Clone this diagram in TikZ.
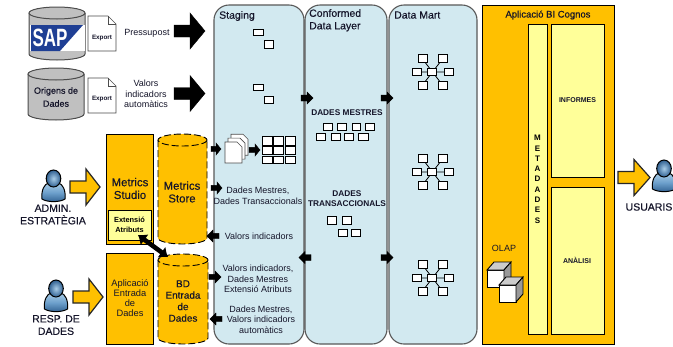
\documentclass[tikz,border=0pt]{standalone}
\usepackage{fontspec}
\usepackage{graphicx}
\usetikzlibrary{arrows.meta}
\setmainfont{Liberation Sans}
\newfontfamily\semib[FakeBold=0.35]{Liberation Sans}
\definecolor{gold}{HTML}{FFC000}
\definecolor{pale}{HTML}{FFFF99}
\definecolor{panel}{HTML}{D2E9F0}
\definecolor{cylgray}{HTML}{C0C0C0}
\definecolor{sapblue}{HTML}{1F3F94}
\definecolor{plight}{HTML}{A9CDE8}
\definecolor{pmid}{HTML}{6C9FCB}
\definecolor{pdark}{HTML}{2F5F90}
\definecolor{ink}{HTML}{15152A}
\tikzset{
  txt/.style={inner sep=0pt,align=center,text=ink,font=\fontsize{9}{10.5}\selectfont},
  small/.style={txt,font=\fontsize{7.5}{10}\selectfont},
  lbl/.style={txt,font=\semib\fontsize{10.5}{12.5}\selectfont},
  big/.style={txt,font=\semib\fontsize{11.4}{12.7}\selectfont},
  mid/.style={txt,font=\semib\fontsize{10}{11.5}\selectfont},
  box/.style={draw=black,line width=0.9pt},
  sq/.style={draw=black,fill=white,line width=0.9pt},
  panelbox/.style={draw=black!65,fill=panel,line width=1.1pt,rounded corners=15pt},
  block/.style={fill=black,draw=black},
  gblock/.style={fill=gold,draw=black!85,line width=1.2pt},
}
% cylinder: x1 x2 ytop ybottom fill style
\newcommand{\cyl}[6]{%
  \draw[#6,fill=#5] (#1,#3) -- (#1,#4) arc[start angle=180,end angle=0,x radius={(#2-#1)/2},y radius=6] -- (#2,#3);
  \draw[#6,fill=#5] ({(#1+#2)/2},#3) ellipse[x radius={(#2-#1)/2},y radius=6];
}
% block arrow: tail tip yc halfshaft halfhead headstart style
\newcommand{\barrow}[7]{%
  \draw[#7] (#1,#3-#4) -- (#6,#3-#4) -- (#6,#3-#5) -- (#2,#3) -- (#6,#3+#5) -- (#6,#3+#4) -- (#1,#3+#4) -- cycle;
}
\newcommand{\docshape}[4]{%
  \draw[draw=black!70,fill=white,line width=0.7pt] (#1,#3) -- (#2-8,#3) -- (#2,#3+8) -- (#2,#4) -- (#1,#4) -- cycle;
  \draw[draw=black!70,line width=0.6pt] (#2-8,#3) -- (#2-8,#3+8) -- (#2,#3+8);
}
% person: centre x, top y
\newcommand{\person}[2]{%
  \begin{scope}[shift={(#1,#2)}]
  \draw[line width=1pt,draw=black,top color=plight,bottom color=pdark,middle color=pmid]
    (-11.5,29) .. controls (-12.5,20) and (-9,14) .. (-5,13) -- (5,13) .. controls (9,14) and (12.5,20) .. (11.5,29) .. controls (6,32.5) and (-6,32.5) .. (-11.5,29) -- cycle;
  \draw[line width=1pt,draw=black,inner color=plight,outer color=pdark] (0,8.5) ellipse[x radius=7.3,y radius=8.5];
  \end{scope}
}
\newcommand{\starnet}[2]{%
  \begin{scope}[shift={(#1,#2)}]
  \draw[line width=0.8pt] (-10,-13) -- (10,13) (10,-13) -- (-10,13) (-16,0) -- (16,0);
  \foreach \a/\b in {-14.5/-13.5,5.5/-13.5,-20.5/0,11.5/0,-14.5/13.5,5.5/13.5,-5/0}{
    \filldraw[sq] (\a,\b-3.8) rectangle +(9,7.6);
  }
  \end{scope}
}
\newcommand{\sqr}[4]{\draw[sq] (#1,#3) rectangle (#2,#4);}
\newcommand{\cubeshape}[4]{%
  \filldraw[draw=black,fill=white,line width=0.9pt] (#1,#3) rectangle (#2,#4);
  \filldraw[draw=black,fill=gray!40,line width=0.9pt] (#1,#3) -- (#1+7,#3-8) -- (#2+7,#3-8) -- (#2,#3) -- cycle;
  \filldraw[draw=black,fill=gray!80,line width=0.9pt] (#2,#3) -- (#2+7,#3-8) -- (#2+7,#4-8) -- (#2,#4) -- cycle;
}
\begin{document}
\begin{tikzpicture}[x=1pt,y=-1pt]
\useasboundingbox (0,0) rectangle (673,346);
\fill[white] (0,0) rectangle (673,346);

% panels
\draw[panelbox] (214,5) rectangle (304,344);
\draw[panelbox] (305,5) rectangle (387,344);
\draw[panelbox] (389,5) rectangle (477,344);
\node[lbl,anchor=west] (staging) at (219,16) {Staging};
\node[lbl,anchor=north west,align=left] (conf) at (309,9) {Conformed\\Data Layer};
\node[lbl,anchor=west] (mart) at (394,15) {Data Mart};

% source cylinders
\cyl{29}{85}{13}{54}{cylgray}{draw=black!70,line width=1pt}
\fill[white] (30,25) rectangle (85,51);
\fill[sapblue] (31,25) -- (83,25) -- (60,51) -- (31,51) -- cycle;
\node[inner sep=0pt,text=white,font=\bfseries\fontsize{25}{25}\selectfont] (sap) at (50,38) {\scalebox{0.68}[1]{SAP}};
\cyl{28}{84}{74}{114}{cylgray}{draw=black!70,line width=1pt}
\node[txt,font=\semib\fontsize{9}{13}\selectfont] (orig) at (56,97) {Origens de\\Dades};
\docshape{88}{116}{16}{51}
\docshape{88}{116}{78}{113}
\node[small,font=\bfseries\fontsize{6.3}{8}\selectfont] (exp1) at (102,37.5) {Export};
\node[small,font=\bfseries\fontsize{6.3}{8}\selectfont] (exp2) at (102,99) {Export};
\node[txt] (press) at (147,33) {Pressupost};
\node[txt] (vals) at (146,94) {Valors\\indicadors\\automàtics};
\barrow{174}{205}{31}{6}{18}{190}{block}
\barrow{174}{205}{93.5}{6}{18}{190}{block}

% left boxes
\draw[box,fill=gold] (106,134) rectangle (153,244);
\node[big] (ms) at (130,188.5) {Metrics\\Studio};
\node[box,fill=pale,minimum width=43pt,minimum height=30pt,inner sep=0pt,align=center,font=\fontsize{7.4}{10}\selectfont] (ext) at (129.5,225) {\bfseries Extensió\\\bfseries Atributs};
\draw[box,fill=gold] (106,253) rectangle (153,344);
\node[txt,font=\fontsize{9.3}{10}\selectfont] (apl) at (130,298) {Aplicació\\Entrada\\de\\Dades};
\cyl{158}{207}{140}{238}{gold}{draw=black,dash pattern=on 7pt off 3pt,line width=0.9pt}
\node[big] (mstore) at (182,192) {Metrics\\Store};
\cyl{158}{208}{260}{338}{gold}{draw=black,dash pattern=on 7pt off 3pt,line width=0.9pt}
\node[mid] (bd) at (183,301) {BD\\Entrada\\de\\Dades};

% double arrow
\coordinate (da) at (138,235);
\coordinate (db) at (168,257);
\draw[black,line width=4.6pt,{Latex[length=8pt,width=14pt]}-{Latex[length=8pt,width=14pt]}] (da) -- (db);

% people
\person{53.5}{170}
\node[lbl] (admin) at (53,214.5) {ADMIN.\\ESTRATÈGIA};
\barrow{70}{100}{187}{6}{18}{86}{gblock}
\person{56}{280}
\node[lbl] (resp) at (56,325) {RESP. DE\\DADES};
\barrow{73}{103}{297}{6}{18}{89}{gblock}
\begin{scope}
\clip (0,0) rectangle (673,346);
\person{664}{160}
\end{scope}
\node[lbl] (usu) at (649,207) {USUARIS};
\barrow{618}{650}{177.5}{6}{18}{634}{gblock}

% staging contents
\sqr{253}{263}{29}{35}\sqr{264}{273}{40}{48}
\sqr{253}{263}{84}{90}\sqr{264}{273}{96}{103}
\foreach \o in {6,3,0}{
  \draw[draw=black!70,fill=white,line width=0.6pt] (225+\o,142-\o*1.3) -- (237+\o,142-\o*1.3) -- (242+\o,147-\o*1.3) -- (242+\o,163-\o*1.3) -- (225+\o,163-\o*1.3) -- cycle;
}
\foreach \xa/\xb in {262/272,273/283,285/295}{
  \foreach \ya/\yb in {136/145,146/154,156/163}{
    \sqr{\xa}{\xb}{\ya}{\yb}
  }
}
\barrow{211}{221}{149}{2.7}{6}{216}{block}
\barrow{249}{260}{150}{2.7}{6}{255}{block}
\barrow{211}{222}{188}{2.7}{6}{217}{block}
\barrow{219}{207}{236}{2.7}{6}{213}{block}
\barrow{209}{221}{277}{2.7}{6}{215}{block}
\barrow{222}{210}{319}{2.7}{6}{216}{block}
\barrow{301}{313}{98}{3}{6}{307}{block}
\barrow{381}{393}{98}{3}{6}{387}{block}
\barrow{311}{299}{257.5}{3}{6}{305}{block}
\barrow{381}{393}{257.5}{3}{6}{387}{block}
\node[txt] (t1) at (258,196) {Dades Mestres,\\Dades Transaccionals};
\node[txt] (t2) at (259,236) {Valors indicadors};
\node[txt] (t3) at (258,279) {Valors indicadors,\\Dades Mestres\\Extensió Atributs};
\node[txt] (t4) at (261,319.5) {Dades Mestres,\\Valors indicadors\\automàtics};

% conformed contents
\node[txt,font=\bfseries\fontsize{8.3}{10}\selectfont] (dm) at (347,113) {DADES MESTRES};
\foreach \a/\b in {323/332,337/346,352/360,365/374}{\sqr{\a}{\b}{123}{130}}
\foreach \a/\b in {316/325,331/340,344/353,358/368}{\sqr{\a}{\b}{133}{140}}
\node[txt,font=\bfseries\fontsize{8.3}{10.5}\selectfont] (dt) at (347,198.5) {DADES\\TRANSACCIONALS};
\sqr{327}{336}{216}{224}\sqr{342}{351}{216}{224}
\sqr{338}{347}{229}{236}\sqr{351}{360}{229}{236}

% data mart
\starnet{432.5}{72}
\starnet{432.5}{172}
\starnet{432.5}{278}

% BI
\draw[box,fill=gold] (482,5) rectangle (614,344);
\node[txt,font=\semib\fontsize{9.5}{12}\selectfont] (bi) at (548,15) {Aplicació BI Cognos};
\draw[box,fill=pale] (528,24) rectangle (547,334);
\draw[box,fill=pale] (551,24) rectangle (604,177);
\draw[box,fill=pale] (551,187) rectangle (604,334);
\node[small,font=\bfseries\fontsize{7}{9}\selectfont] (inf) at (577.5,100) {INFORMES};
\node[small,font=\bfseries\fontsize{7}{9}\selectfont] (ana) at (577,260) {ANÀLISI};
\foreach \c [count=\i from 0] in {M,E,T,A,D,A,D,E,S}{
  \node[inner sep=0pt,font=\bfseries\fontsize{8}{9}\selectfont] (meta\i) at (537.5,{138+\i*10.3}) {\c};
}
\node[txt] (olap) at (504,248) {OLAP};
\cubeshape{487}{504}{270}{287}
\cubeshape{499}{516}{285}{302}
\end{tikzpicture}
\end{document}
